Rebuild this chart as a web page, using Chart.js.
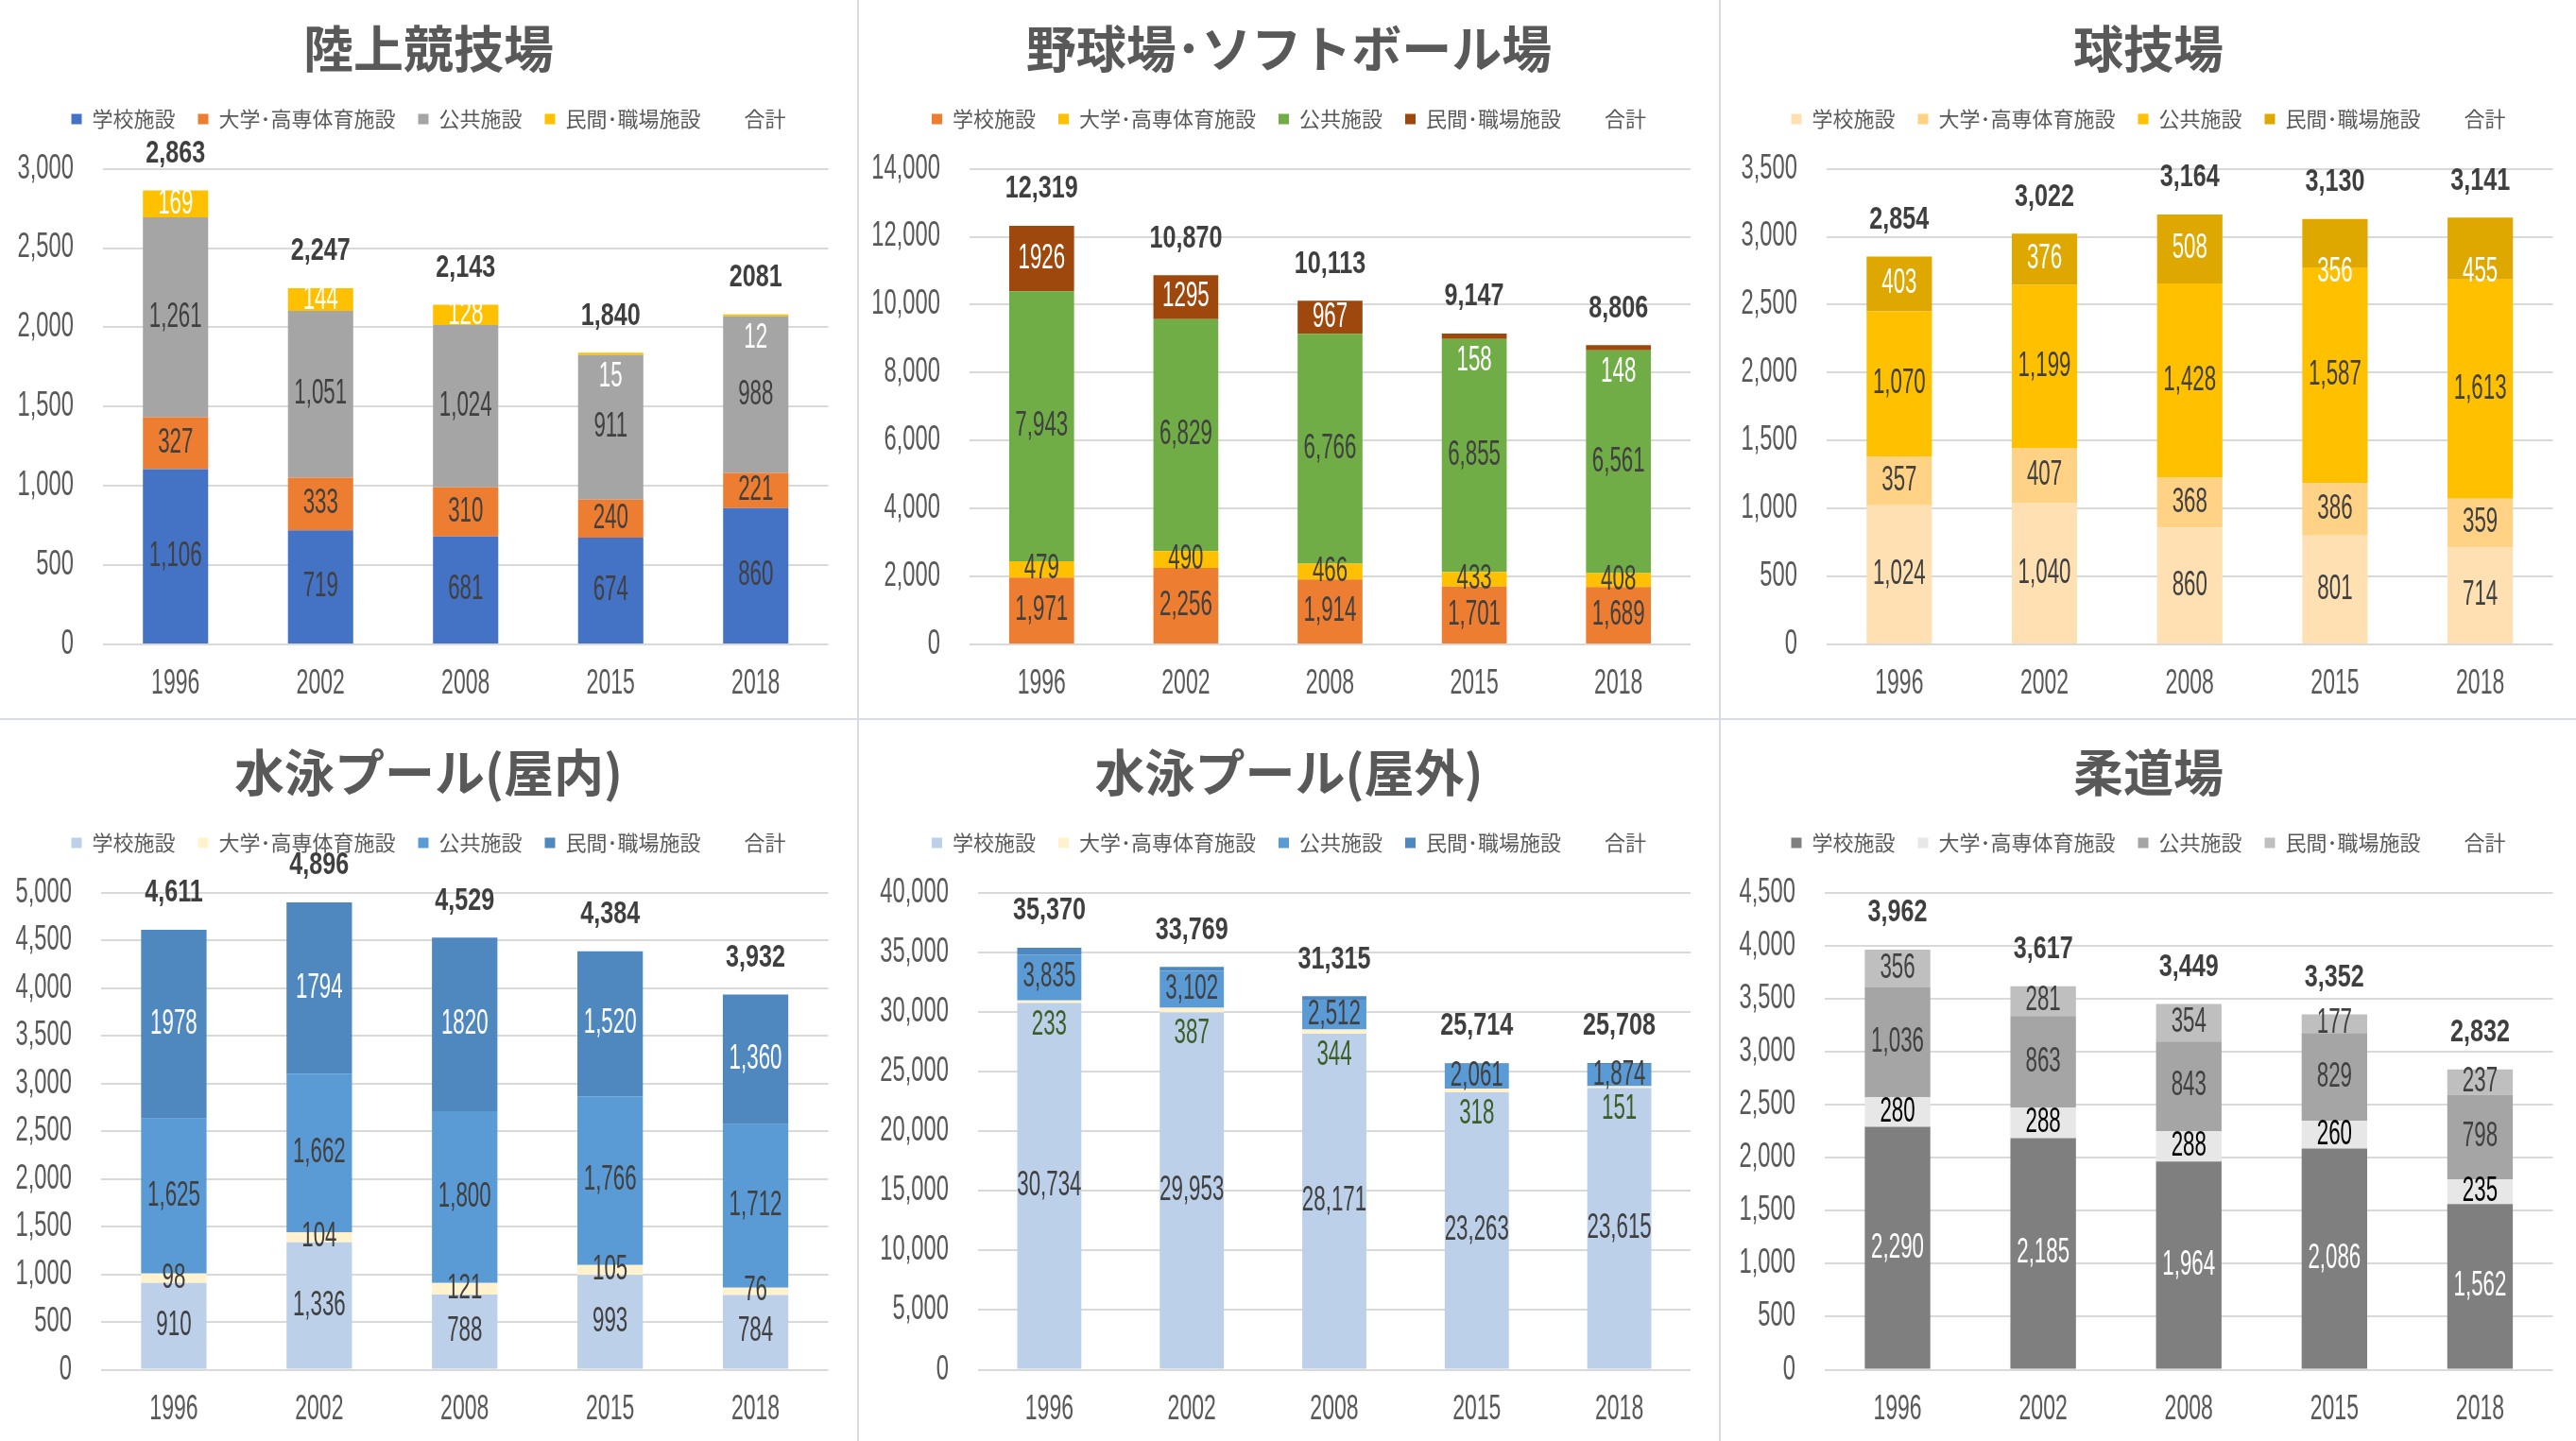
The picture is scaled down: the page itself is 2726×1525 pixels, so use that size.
<!DOCTYPE html>
<html lang="ja">
<head>
<meta charset="utf-8">
<title>体育施設数の推移</title>
<script src="https://cdn.jsdelivr.net/npm/chart.js@4.4.1/dist/chart.umd.min.js"></script>
<style>
  html, body { margin: 0; padding: 0; background: #fff; }
  body { width: 2726px; height: 1525px; position: relative; overflow: hidden; }
  .panel { position: absolute; }
  .sep { position: absolute; background: #d6dce5; }
</style>
</head>
<body>
<div class="sep" style="left:907px;top:0;width:2px;height:1525px"></div>
<div class="sep" style="left:1819px;top:0;width:2px;height:1525px"></div>
<div class="sep" style="left:0;top:760px;width:2726px;height:2px"></div>

<script>
// ---- data ----
const years = ['1996', '2002', '2008', '2015', '2018'];
const seriesNames = ['学校施設', '大学･高専体育施設', '公共施設', '民間･職場施設'];
const totalName = '合計';

// 陸上競技場
const rikujoSchool = [1106, 719, 681, 674, 860];
const rikujoUniv = [327, 333, 310, 240, 221];
const rikujoPublic = [1261, 1051, 1024, 911, 988];
const rikujoPrivate = [169, 144, 128, 15, 12];
const rikujoTotal = [2863, 2247, 2143, 1840, 2081];

// 野球場・ソフトボール場
const yakyuSchool = [1971, 2256, 1914, 1701, 1689];
const yakyuUniv = [479, 490, 466, 433, 408];
const yakyuPublic = [7943, 6829, 6766, 6855, 6561];
const yakyuPrivate = [1926, 1295, 967, 158, 148];
const yakyuTotal = [12319, 10870, 10113, 9147, 8806];

// 球技場
const kyugiSchool = [1024, 1040, 860, 801, 714];
const kyugiUniv = [357, 407, 368, 386, 359];
const kyugiPublic = [1070, 1199, 1428, 1587, 1613];
const kyugiPrivate = [403, 376, 508, 356, 455];
const kyugiTotal = [2854, 3022, 3164, 3130, 3141];

// 水泳プール(屋内)
const poolInSchool = [910, 1336, 788, 993, 784];
const poolInUniv = [98, 104, 121, 105, 76];
const poolInPublic = [1625, 1662, 1800, 1766, 1712];
const poolInPrivate = [1978, 1794, 1820, 1520, 1360];
const poolInTotal = [4611, 4896, 4529, 4384, 3932];

// 水泳プール(屋外)
const poolOutSchool = [30734, 29953, 28171, 23263, 23615];
const poolOutUniv = [233, 387, 344, 318, 151];
const poolOutPublic = [3835, 3102, 2512, 2061, 1874];
const poolOutPrivate = [568, 327, 288, 72, 68];
const poolOutTotal = [35370, 33769, 31315, 25714, 25708];

// 柔道場
const judoSchool = [2290, 2185, 1964, 2086, 1562];
const judoUniv = [280, 288, 288, 260, 235];
const judoPublic = [1036, 863, 843, 829, 798];
const judoPrivate = [356, 281, 354, 177, 237];
const judoTotal = [3962, 3617, 3449, 3352, 2832];

// y axis ranges (max, step)
const yMax = [3000, 14000, 3500, 5000, 40000, 4500];
const yStep = [500, 2000, 500, 500, 5000, 500];

// ---- look ----
const NUM_FONT = '"Liberation Sans", Arial, sans-serif';
const DARK = '#404040';

const panels = [
  {
    title: '陸上競技場', series: [rikujoSchool, rikujoUniv, rikujoPublic, rikujoPrivate], total: rikujoTotal,
    colors: ['#4472C4', '#ED7D31', '#A5A5A5', '#FFC000'],
    labelColors: [DARK, DARK, DARK, '#ffffff'],
    plain: ['t4'], hide: [], nudge: {},
    box: [0, 0, 907, 760], yW: 109, right: 30.5, top: 0, xH: 78
  },
  {
    title: '野球場･ソフトボール場', series: [yakyuSchool, yakyuUniv, yakyuPublic, yakyuPrivate], total: yakyuTotal,
    colors: ['#ED7D31', '#FFC000', '#70AD47', '#9E480E'],
    labelColors: [DARK, DARK, DARK, '#ffffff'],
    plain: ['3-0', '3-1'], hide: [], nudge: {},
    box: [909, 0, 910, 760], yW: 117, right: 30, top: 0, xH: 78
  },
  {
    title: '球技場', series: [kyugiSchool, kyugiUniv, kyugiPublic, kyugiPrivate], total: kyugiTotal,
    colors: ['#FFE0B3', '#FFD285', '#FFC000', '#DFA800'],
    labelColors: [DARK, DARK, DARK, '#ffffff'],
    plain: [], hide: [], nudge: {3: [0, 0, 0, 31, 25]},
    box: [1821, 0, 905, 760], yW: 112, right: 24.5, top: 0, xH: 78
  },
  {
    title: '水泳プール(屋内)', series: [poolInSchool, poolInUniv, poolInPublic, poolInPrivate], total: poolInTotal,
    colors: ['#BDD0EA', '#FFF2CC', '#5B9BD5', '#4E88BE'],
    labelColors: [DARK, DARK, DARK, '#ffffff'],
    plain: ['3-0', '3-1', '3-2'], hide: [], nudge: {},
    box: [0, 762, 907, 763], yW: 107, right: 30.5, top: 4, xH: 75.4
  },
  {
    title: '水泳プール(屋外)', series: [poolOutSchool, poolOutUniv, poolOutPublic, poolOutPrivate], total: poolOutTotal,
    colors: ['#BDD0EA', '#FFF2CC', '#5B9BD5', '#4E88BE'],
    labelColors: [DARK, '#3B5E24', DARK, '#ffffff'],
    plain: [], hide: [3], nudge: {},
    box: [909, 762, 910, 763], yW: 126, right: 30, top: 4, xH: 75.4
  },
  {
    title: '柔道場', series: [judoSchool, judoUniv, judoPublic, judoPrivate], total: judoTotal,
    colors: ['#7F7F7F', '#E7E7E7', '#A5A5A5', '#BFBFBF'],
    labelColors: ['#ffffff', '#000000', DARK, DARK],
    plain: [], hide: [], nudge: {},
    box: [1821, 762, 905, 763], yW: 110, right: 24.5, top: 4, xH: 75.4
  }
];

Chart.defaults.font.family = '"Noto Sans CJK JP", "Noto Sans", sans-serif';
Chart.defaults.color = '#595959';
Chart.defaults.animation = false;

function fmt(v, plain) {
  return plain ? String(v) : v.toLocaleString('en-US');
}

// condensed number text (the original uses a very narrow face)
function narrowText(ctx, text, x, y, size, sx, color, bold, align) {
  ctx.save();
  ctx.font = (bold ? 'bold ' : '') + size + 'px ' + NUM_FONT;
  ctx.fillStyle = color;
  ctx.textAlign = align;
  ctx.textBaseline = 'middle';
  ctx.translate(x, y);
  ctx.scale(sx, 1);
  ctx.fillText(text, 0, 0);
  ctx.restore();
}

const numberLabels = {
  id: 'numberLabels',
  afterDraw(chart, args, opts) {
    const ctx = chart.ctx;
    const area = chart.chartArea;
    const ys = chart.scales.y;
    const xs = chart.scales.x;

    ys.ticks.forEach(t => {
      narrowText(ctx, fmt(t.value), area.left - 31, ys.getPixelForValue(t.value), 36, 0.66, '#595959', false, 'right');
    });
    chart.data.labels.forEach((lab, i) => {
      narrowText(ctx, lab, xs.getPixelForValue(i), area.bottom + 42, 36, 0.64, '#595959', false, 'center');
    });

    chart.data.datasets.forEach((ds, d) => {
      if (ds.type === 'line') {
        ds.data.forEach((v, i) => {
          const txt = fmt(v, opts.plain.includes('t' + i));
          narrowText(ctx, txt, xs.getPixelForValue(i), ys.getPixelForValue(v) - 39, 34, 0.74, '#3F3F3F', true, 'center');
        });
        return;
      }
      if (opts.hide.includes(d)) return;
      const meta = chart.getDatasetMeta(d);
      meta.data.forEach((bar, i) => {
        const h = bar.base - bar.y;
        let y = h < 7 ? bar.base + 23 : (bar.y + bar.base) / 2;
        if (opts.nudge[d]) y += opts.nudge[d][i];
        const txt = fmt(ds.data[i], opts.plain.includes(d + '-' + i));
        narrowText(ctx, txt, bar.x, y, 36, 0.62, opts.labelColors[d], false, 'center');
      });
    });
  }
};

panels.forEach((p, k) => {
  const wrap = document.createElement('div');
  wrap.className = 'panel';
  wrap.style.left = p.box[0] + 'px';
  wrap.style.top = p.box[1] + 'px';
  wrap.style.width = p.box[2] + 'px';
  wrap.style.height = p.box[3] + 'px';
  const canvas = document.createElement('canvas');
  wrap.appendChild(canvas);
  document.body.appendChild(wrap);

  const datasets = p.series.map((vals, d) => ({
    label: seriesNames[d],
    data: vals,
    backgroundColor: p.colors[d],
    borderWidth: 0,
    barPercentage: 0.45,
    categoryPercentage: 1.0
  }));
  datasets.push({
    type: 'line',
    label: totalName,
    data: p.total,
    showLine: false,
    pointRadius: 0,
    backgroundColor: 'rgba(0,0,0,0)',
    borderColor: 'rgba(0,0,0,0)',
    borderWidth: 0
  });

  new Chart(canvas, {
    type: 'bar',
    data: { labels: years, datasets: datasets },
    options: {
      responsive: true,
      maintainAspectRatio: false,
      devicePixelRatio: 1,
      layout: { padding: { top: p.top, right: 0, left: 0, bottom: 0 } },
      plugins: {
        title: {
          display: true,
          text: p.title,
          color: '#595959',
          font: { size: 53, weight: 'bold', lineHeight: 1.2 },
          padding: { top: 20.4, bottom: 7 }
        },
        legend: {
          display: true,
          position: 'top',
          labels: {
            boxWidth: 11,
            boxHeight: 11,
            padding: 24,
            color: '#595959',
            font: { size: 22 }
          }
        },
        tooltip: { enabled: false },
        numberLabels: {
          labelColors: p.labelColors,
          plain: p.plain,
          hide: p.hide,
          nudge: p.nudge
        }
      },
      scales: {
        x: {
          stacked: true,
          grid: { display: false },
          border: { display: false },
          ticks: { display: false },
          afterFit: s => { s.height = p.xH; }
        },
        y: {
          stacked: true,
          min: 0,
          max: yMax[k],
          ticks: { display: false, stepSize: yStep[k] },
          grid: { color: '#D9D9D9', lineWidth: 2, drawTicks: false },
          border: { display: false },
          afterFit: s => { s.width = p.yW; }
        },
        gap: {
          type: 'linear',
          position: 'top',
          grid: { display: false },
          border: { display: false },
          ticks: { display: false },
          afterFit: s => { s.height = 31.6; }
        },
        rightGap: {
          type: 'linear',
          position: 'right',
          grid: { display: false },
          border: { display: false },
          ticks: { display: false },
          afterFit: s => { s.width = p.right; }
        }
      }
    },
    plugins: [numberLabels]
  });
});
</script>
</body>
</html>
